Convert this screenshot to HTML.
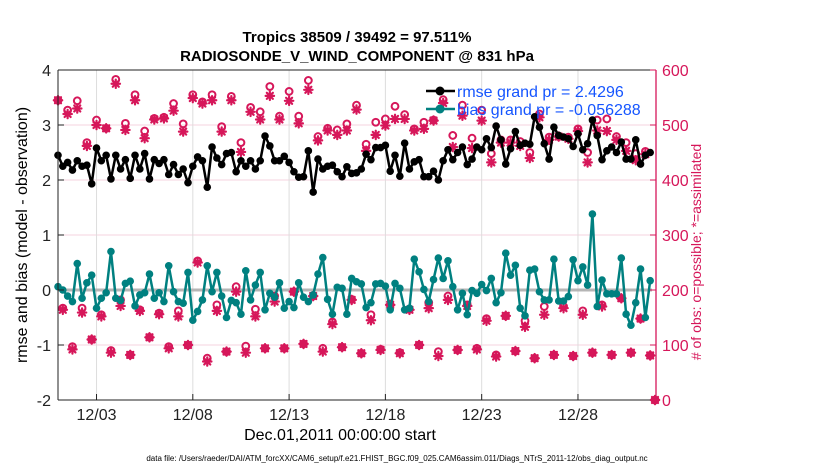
<!DOCTYPE html>
<html><head><meta charset="utf-8">
<style>
html,body{margin:0;padding:0;background:#fff;}
svg{display:block;font-family:"Liberation Sans",Arial,sans-serif;}
</style></head>
<body>
<svg id="chart" width="830" height="470" viewBox="0 0 830 470" xmlns="http://www.w3.org/2000/svg">
<rect x="0" y="0" width="830" height="470" fill="#fff"/>
<text x="357" y="42" text-anchor="middle" font-size="15" font-weight="bold">Tropics 38509 / 39492 = 97.511%</text>
<text x="357" y="61" text-anchor="middle" font-size="15" font-weight="bold">RADIOSONDE_V_WIND_COMPONENT @ 831 hPa</text>
<g id="grid"></g>
<g id="marks"></g>
<g id="axes"></g>
<text transform="translate(27,235) rotate(-90)" text-anchor="middle" font-size="16">rmse and bias (model - observation)</text>
<text transform="translate(701,252) rotate(-90)" text-anchor="middle" font-size="14" fill="#d6175a"># of obs: o=possible; *=assimilated</text>
<text x="340" y="440" text-anchor="middle" font-size="16">Dec.01,2011 00:00:00 start</text>
<text x="397" y="461" text-anchor="middle" font-size="8">data file: /Users/raeder/DAI/ATM_forcXX/CAM6_setup/f.e21.FHIST_BGC.f09_025.CAM6assim.011/Diags_NTrS_2011-12/obs_diag_output.nc</text>
<g id="legend">
  <g>
    <line x1="426" y1="91" x2="455" y2="91" stroke="#000" stroke-width="2.5"/>
    <circle cx="440" cy="91" r="4.5" fill="#000"/>
    <text x="457" y="97" font-size="16" fill="#1555ff">rmse grand pr = 2.4296</text>
  </g>
  <g>
    <line x1="426" y1="109" x2="455" y2="109" stroke="#008080" stroke-width="2.5"/>
    <circle cx="440" cy="109" r="4.5" fill="#008080"/>
    <text x="457" y="115" font-size="16" fill="#1555ff">bias grand pr = -0.056288</text>
  </g>
</g>
</svg>
<script>
const dayTicks = [2, 7, 12, 17, 22, 27];
const dayTickLabels = ["12/03","12/08","12/13","12/18","12/23","12/28"];
const leftTicks = [-2,-1,0,1,2,3,4];
const rightTicks = [0,100,200,300,400,500,600];
const rmse = [2.45,2.25,2.32,2.18,2.35,2.25,2.27,1.93,2.58,2.35,2.45,2.02,2.45,2.2,2.37,2.03,2.45,2.2,2.48,2.02,2.37,2.3,2.37,2.1,2.28,2.1,2.2,1.95,2.25,2.42,2.35,1.87,2.6,2.4,2.28,2.48,2.5,2.15,2.35,2.25,2.35,2.2,2.35,2.8,2.62,2.35,2.35,2.43,2.32,2.15,2.05,2.06,2.53,1.78,2.38,2.2,2.25,2.27,2.15,
2.06,2.24,2.12,2.13,2.2,2.47,2.37,2.59,2.59,2.63,2.16,2.45,2.07,2.67,2.2,2.33,2.37,2.06,2.06,2.16,2.0,2.35,2.55,2.37,2.5,2.6,2.28,2.38,2.6,2.55,2.75,2.59,2.98,2.73,2.29,2.57,2.88,2.63,2.67,2.65,3.15,2.96,2.66,2.38,2.96,2.81,2.78,2.75,2.61,2.84,2.55,2.66,3.09,2.81,2.37,2.53,2.6,2.5,2.69,2.38,2.38,2.73,2.29,2.45,2.5];
const bias = [0.06,0,-0.11,-0.21,0.48,-0.15,0.13,0.27,-0.33,-0.15,-0.05,0.7,-0.15,-0.19,0.12,0.16,-0.29,-0.09,-0.05,0.29,-0.15,-0.05,-0.21,0.44,-0.03,-0.21,-0.24,0.32,-0.55,-0.39,-0.18,0.44,-0.03,0.32,-0.11,-0.5,-0.19,-0.23,-0.44,0.35,-0.18,0.09,0.32,-0.36,-0.06,-0.13,0.13,-0.33,-0.21,-0.32,0.13,-0.13,-0.21,-0.09,0.29,0.59,-0.17,-0.44,0.05,
0.03,-0.44,0.21,0.15,0.11,-0.32,-0.23,0.11,0.12,0.07,-0.36,0.12,0.03,-0.36,-0.33,0.56,0.33,0.01,-0.21,0.19,0.58,0.21,0.53,0.06,-0.36,-0.06,-0.45,-0.01,-0.06,0.1,-0.01,0.21,-0.23,-0.05,0.67,0.27,0.45,-0.33,-0.47,0.36,0.38,-0.03,-0.18,-0.18,0.56,-0.2,-0.2,-0.12,0.55,0.17,0.42,0.09,1.38,-0.3,0.18,-0.07,-0.07,-0.07,0.58,-0.44,-0.64,-0.23,0.38,-0.5,0.17];
const nAssim = [545,164,520,92,530,159,462,110,500,152,494,86,575,171,491,82,545,162,476,114,510,156,512,94,526,152,488,100,549,250,539,70,545,162,488,88,545,197,451,86,524,152,510,94,553,179,510,94,544,197,503,102,564,189,472,88,490,138,482,96,490,182,528,85,
453,145,482,91,499,173,511,85,511,164,490,100,493,167,508,80,540,182,460,91,517,171,458,92,508,144,432,79,468,153,468,89,462,133,440,76,514,155,473,82,479,167,475,80,489,155,432,86,490,170,489,82,473,185,453,86,436,148,447,81,0];
const nPoss = [545,167,527,97,544,167,468,110,509,155,494,90,583,182,503,82,555,164,489,114,512,158,514,97,539,162,502,100,555,253,542,76,555,173,497,88,552,206,468,98,532,165,524,94,570,189,516,94,561,197,516,102,581,189,479,94,494,142,491,96,502,183,536,85,
465,155,505,92,511,173,534,86,519,165,493,100,505,177,509,88,546,189,481,91,536,173,476,94,527,148,448,82,473,153,473,89,470,144,450,76,520,170,478,82,479,170,478,80,493,162,450,86,509,173,511,82,479,185,468,86,448,148,452,81,0];

const NS="http://www.w3.org/2000/svg";
const X0=58, X1=655, Y0=70, Y1=400, PINK="#d6175a", TEAL="#008080";
function xDay(d){return X0+(d/31)*(X1-X0);}
function yL(v){return Y0+(4-v)*(Y1-Y0)/6;}
function yR(c){return Y1-c*(Y1-Y0)/600;}
function el(tag,attrs,parent){const e=document.createElementNS(NS,tag);for(const k in attrs)e.setAttribute(k,attrs[k]);parent.appendChild(e);return e;}
const grid=document.getElementById('grid'), marks=document.getElementById('marks'), axes=document.getElementById('axes');

leftTicks.forEach(v=>{
  if(v===-2||v===4) return;
  const g=el('line',{x1:X0,x2:X1,y1:yL(v),y2:yL(v),stroke:'#f6d3df','stroke-width':1},grid);
  
  
});
dayTicks.forEach(d=>{
  const g=el('line',{x1:xDay(d),x2:xDay(d),y1:Y0,y2:Y1,stroke:'#dddddd','stroke-width':1},grid);
  
  
});
const zl=el('line',{x1:X0,x2:652,y1:yL(0),y2:yL(0),stroke:'#b5b5b5','stroke-width':3},grid);



function star(cx,cy,parent){
  const g=el('g',{stroke:PINK,'stroke-width':2.2,'stroke-linecap':'round'},parent);
  const r=4.2;
  [[0,1],[1,0],[0.72,0.72],[0.72,-0.72]].forEach(([a,b])=>{
    el('line',{x1:cx-a*r,y1:cy-b*r,x2:cx+a*r,y2:cy+b*r},g);
  });
  return g;
}
nAssim.forEach((c,i)=>{
  const cx=xDay(i/4);
  const pc=el('circle',{cx:cx,cy:yR(nPoss[i]),r:3.4,fill:'none',stroke:PINK,'stroke-width':2},marks);
  
  
  const s=star(cx,yR(c),marks);
  
  
});

function series(vals,color,name){
  const pts=vals.map((v,i)=>xDay(i/4)+','+yL(v)).join(' ');
  const pl=el('polyline',{points:pts,fill:'none',stroke:color,'stroke-width':2.5,'stroke-linejoin':'round'},marks);
  
  
  vals.forEach((v,i)=>{
    const c=el('circle',{cx:xDay(i/4),cy:yL(v),r:3.8,fill:color},marks);
    
    
  });
}
series(bias,TEAL,'bias');
series(rmse,'#000','rmse');

el('line',{x1:X0,x2:X1,y1:Y0,y2:Y0,stroke:'#222','stroke-width':1},axes);
el('line',{x1:X0,x2:X1,y1:Y1,y2:Y1,stroke:'#222','stroke-width':1},axes);
el('line',{x1:X0,x2:X0,y1:Y0,y2:Y1,stroke:'#222','stroke-width':1},axes);
el('line',{x1:X1+1,x2:X1+1,y1:Y0,y2:Y1,stroke:PINK,'stroke-width':1.3},axes);
leftTicks.forEach(v=>{
  el('line',{x1:X0,x2:X0+6,y1:yL(v),y2:yL(v),stroke:'#222'},axes);
  const t=el('text',{x:X0-7,y:yL(v)+6,'text-anchor':'end','font-size':16,fill:'#222'},axes);
  t.textContent=v;
  
  
});
rightTicks.forEach(c=>{
  el('line',{x1:X1+1,x2:X1-5,y1:yR(c),y2:yR(c),stroke:PINK},axes);
  const t=el('text',{x:X1+7,y:yR(c)+6,'font-size':16,fill:PINK},axes);
  t.textContent=c;
  
  
});
dayTicks.forEach((d,i)=>{
  el('line',{x1:xDay(d),x2:xDay(d),y1:Y1,y2:Y1-6,stroke:'#222'},axes);
  const t=el('text',{x:xDay(d),y:Y1+20,'text-anchor':'middle','font-size':16,fill:'#222'},axes);
  t.textContent=dayTickLabels[i];
  
  
});
</script>
</body></html>
